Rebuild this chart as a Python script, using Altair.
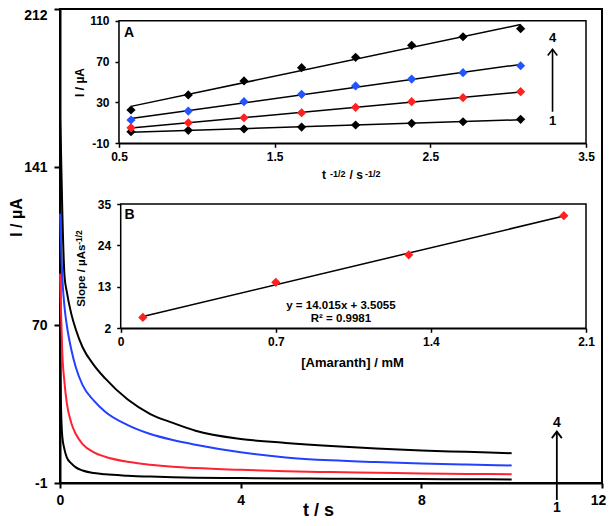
import altair as alt
import pandas as pd

FONT = "Liberation Sans"
W, H = 542, 474

# ---------------- main chronoamperograms (t in s, I in µA) ----------------
T = [0.0, 0.02, 0.05, 0.1, 0.15, 0.25, 0.35, 0.5, 0.75, 1.0, 1.5, 2.0, 2.5, 3.0,
     4.0, 5.0, 6.0, 7.0, 8.0, 9.0, 10.0]
I_1 = [60, 35, 20, 14, 10.5, 7.8, 6.0, 4.6, 3.5, 2.9, 2.3, 1.9, 1.6, 1.4,
       1.2, 1.05, 0.95, 0.85, 0.75, 0.7, 0.6]
I_2 = [93, 78, 58, 44, 35, 26, 21, 16.5, 12.8, 10.8, 8.5, 7.2, 6.3, 5.7,
       4.9, 4.3, 3.9, 3.6, 3.3, 3.1, 2.9]
I_3 = [120, 108, 92, 78, 70, 59, 51, 43, 36, 31, 25, 21, 18.3, 16.2,
       12.8, 10.5, 9.2, 8.4, 7.8, 7.3, 6.9]
I_4 = [163, 150, 122, 92, 85, 75, 68, 60, 52, 46, 36.5, 30, 26, 22.5,
       18.8, 17.0, 15.6, 14.5, 13.6, 13.0, 12.4]
CURVES = ["1", "2", "3", "4"]
LINE_COLORS = ["#000000", "#ff2233", "#2241ff", "#000000"]
MARK_COLORS = ["#000000", "#ff2020", "#2255ff", "#000000"]
MAIN_X_TICKS = [0, 4, 8, 12]
MAIN_Y_TICKS = [-1, 70, 141, 212]
MAIN_ARROW_T = [11]
MAIN_ARROW_LO = [-8.6]
MAIN_ARROW_HI = [22.1]
MAIN_ARROW_LABELS = ["4", "1"]
MAIN_ARROW_LABEL_Y = [25.8, -12.4]

# ---------------- inset A: I vs t^-1/2 ----------------
A_X = [0.577, 0.945, 1.303, 1.673, 2.02, 2.38, 2.71, 3.08]
A_I1 = [1.3, 2.7, 4.0, 5.9, 7.9, 9.6, 11.1, 13.5]
A_I2 = [5.2, 10.1, 15.0, 19.9, 25.2, 30.7, 34.6, 40.5]
A_I3 = [12.8, 21.6, 30.7, 37.9, 46.1, 52.9, 59.1, 65.9]
A_I4 = [22.6, 37.3, 51.0, 64.0, 74.2, 85.9, 94.3, 102.2]
A_X_TICKS = [0.5, 1.5, 2.5, 3.5]
A_Y_TICKS = [-10, 30, 70, 110]
A_ARROW_X = [3.285]
A_ARROW_LO = [20.9]
A_ARROW_HI = [82.0]
A_ARROW_LABEL_Y = [92.8, 11.5]
A_TAG = (0.532, 98)
A_XTITLE_ANCHOR = (1.804, -45.2)

# ---------------- inset B: slope vs concentration ----------------
B_CONC = [0.1, 0.7, 1.3, 2.0]
B_SLOPE = [4.9, 14.2, 21.5, 31.9]
B_X_TICKS = [0, 0.7, 1.4, 2.1]
B_Y_TICKS = [2, 13, 24, 35]
B_EQUATION = ["y = 14.015x  + 3.5055", "R² = 0.9981"]
B_EQUATION_X = [0.994, 0.994]
B_EQUATION_Y = [8.0, 4.5]
B_TAG = (0.017, 32.1)
B_YTITLE_ANCHOR = (-0.161, 7.7)

# inset placement inside the main plot area (pixels)
A_XR = [59, 526]
A_YR = [134.3, 11.7]
B_XR = [60.7, 526]
B_YR = [319.3, 195]

ARROW_HEAD = "M-1,1.3L0,0L1,1.3"
LABEL_EXPR = "'' + datum.value"


def axis(values, orient, title=None, lab=12, tick=4, pad=6, dw=1.5, offset=0, **kw):
    return alt.Axis(
        values=values, orient=orient, offset=offset, title=title,
        labelExpr=LABEL_EXPR, labelFont=FONT, labelFontSize=lab,
        labelFontWeight="bold", labelColor="black", labelPadding=pad,
        tickSize=tick, tickWidth=dw, tickColor="black",
        domainColor="black", domainWidth=dw, grid=False,
        titleFont=FONT, titleFontWeight="bold", titleColor="black", **kw)


def scales(kind):
    if kind == "main":
        return (alt.Scale(domain=[MAIN_X_TICKS[0], MAIN_X_TICKS[-1]], nice=False, zero=False),
                alt.Scale(domain=[MAIN_Y_TICKS[0], MAIN_Y_TICKS[-1]], nice=False, zero=False))
    if kind == "A":
        return (alt.Scale(domain=[A_X_TICKS[0], A_X_TICKS[-1]], range=A_XR, nice=False, zero=False),
                alt.Scale(domain=[A_Y_TICKS[0], A_Y_TICKS[-1]], range=A_YR, nice=False, zero=False))
    return (alt.Scale(domain=[B_X_TICKS[0], B_X_TICKS[-1]], range=B_XR, nice=False, zero=False),
            alt.Scale(domain=[B_Y_TICKS[0], B_Y_TICKS[-1]], range=B_YR, nice=False, zero=False))


def txt(df, kind, **mk):
    xs, ys = scales(kind)
    base = dict(font=FONT, fontWeight="bold", color="black")
    base.update(mk)
    return alt.Chart(df).mark_text(**base).encode(
        x=alt.X("x:Q", scale=xs, axis=None),
        y=alt.Y("y:Q", scale=ys, axis=None),
        text="txt:N")


def arrow(kind, xs_vals, lo, hi, width, size):
    xs, ys = scales(kind)
    df = pd.DataFrame({"x": xs_vals, "lo": lo, "hi": hi})
    rule = alt.Chart(df).mark_rule(color="black", strokeWidth=width).encode(
        x=alt.X("x:Q", scale=xs, axis=None), y=alt.Y("lo:Q", scale=ys, axis=None), y2="hi:Q")
    head = alt.Chart(df).mark_point(shape=ARROW_HEAD, filled=False, size=size, strokeWidth=width,
                                    color="black", opacity=1).encode(
        x=alt.X("x:Q", scale=xs, axis=None), y=alt.Y("hi:Q", scale=ys, axis=None))
    return [rule, head]


layers = []

# ================= main chart =================
main_df = pd.DataFrame({
    "t": T * 4,
    "I": I_1 + I_2 + I_3 + I_4,
    "curve": [c for c in CURVES for _ in T],
})
mxs, mys = scales("main")
top_tick = MAIN_Y_TICKS[-1]
last_x = MAIN_X_TICKS[-1]
layers.append(alt.Chart(main_df).mark_line(strokeWidth=2, interpolate="monotone").encode(
    x=alt.X("t:Q", scale=mxs, axis=axis(
        MAIN_X_TICKS, "bottom", title="t / s", lab=14, tick=5, pad=5, dw=2,
        labelFlush=False,
        labelOffset={"condition": {"test": f"datum.value == {last_x}", "value": -4}, "value": 0},
        titleFontSize=18, titleX=258, titleY=32,
        titleBaseline="alphabetic", titleAlign="center")),
    y=alt.Y("I:Q", scale=mys, axis=axis(
        MAIN_Y_TICKS, "left", title="I / µA", lab=14, tick=6, pad=7, dw=2,
        labelOffset={"condition": {"test": f"datum.value == {top_tick}", "value": 6}, "value": 0},
        titleFontSize=16, titleX=-44, titleY=208, titleBaseline="middle",
        titleAngle=270, titleAlign="center")),
    color=alt.Color("curve:N", scale=alt.Scale(domain=CURVES, range=LINE_COLORS), legend=None),
))
layers += arrow("main", MAIN_ARROW_T, MAIN_ARROW_LO, MAIN_ARROW_HI, 1.8, 100)
layers.append(txt(pd.DataFrame({"x": MAIN_ARROW_T * 2, "y": MAIN_ARROW_LABEL_Y,
                                "txt": MAIN_ARROW_LABELS}),
                  "main", fontSize=14, align="center", baseline="middle"))

# ================= inset A =================
axs, ays = scales("A")
a_df = pd.DataFrame({
    "x": A_X * 4,
    "I": A_I1 + A_I2 + A_I3 + A_I4,
    "series": [c for c in CURVES for _ in A_X],
})
layers.append(alt.Chart(pd.DataFrame({"x0": [A_X_TICKS[0]], "x1": [A_X_TICKS[-1]],
                                      "y0": [A_Y_TICKS[0]], "y1": [A_Y_TICKS[-1]]})).mark_rect(
    fill="white", stroke="black", strokeWidth=1.5).encode(
    x=alt.X("x0:Q", scale=axs, axis=axis(A_X_TICKS, "bottom", offset=-(H - A_YR[0]),
                                         pad=4, labelFlush=False)),
    x2="x1:Q",
    y=alt.Y("y0:Q", scale=ays, axis=axis(A_Y_TICKS, "left", offset=-A_XR[0], title="I / µA",
                                         titleFontSize=12, titleX=-40, titleY=73,
                                         titleBaseline="middle", titleAngle=270,
                                         titleAlign="center")),
    y2="y1:Q",
))
axs, ays = scales("A")
layers.append(alt.Chart(a_df).transform_regression("x", "I", groupby=["series"]).mark_line(
    color="black", strokeWidth=1.5).encode(
    x=alt.X("x:Q", scale=axs, axis=None), y=alt.Y("I:Q", scale=ays, axis=None),
    detail="series:N"))
axs, ays = scales("A")
layers.append(alt.Chart(a_df).mark_point(shape="diamond", filled=True, size=85, opacity=1).encode(
    x=alt.X("x:Q", scale=axs, axis=None), y=alt.Y("I:Q", scale=ays, axis=None),
    color=alt.Color("series:N", scale=alt.Scale(domain=CURVES, range=MARK_COLORS), legend=None)))
layers.append(txt(pd.DataFrame({"x": [A_TAG[0]], "y": [A_TAG[1]], "txt": ["A"]}), "A",
                  fontSize=14, align="left", baseline="middle"))
layers += arrow("A", A_ARROW_X, A_ARROW_LO, A_ARROW_HI, 1.6, 90)
layers.append(txt(pd.DataFrame({"x": A_ARROW_X * 2, "y": A_ARROW_LABEL_Y, "txt": ["4", "1"]}),
                  "A", fontSize=13, align="center", baseline="middle"))
for s, dx, dy, fs in [("t", 0, 0, 12), ("-1/2", 8, -2.5, 9), ("/ s", 27.5, 0, 12),
                      ("-1/2", 43, -2.5, 9)]:
    layers.append(txt(pd.DataFrame({"x": [A_XTITLE_ANCHOR[0]], "y": [A_XTITLE_ANCHOR[1]],
                                    "txt": [s]}),
                      "A", fontSize=fs, align="left", baseline="alphabetic", dx=dx, dy=dy))

# ================= inset B =================
b_df = pd.DataFrame({"c": B_CONC, "s": B_SLOPE})
bxs, bys = scales("B")
layers.append(alt.Chart(pd.DataFrame({"x0": [B_X_TICKS[0]], "x1": [B_X_TICKS[-1]],
                                      "y0": [B_Y_TICKS[0]], "y1": [B_Y_TICKS[-1]]})).mark_rect(
    fill="white", stroke="black", strokeWidth=1.5).encode(
    x=alt.X("x0:Q", scale=bxs, axis=axis(B_X_TICKS, "bottom", offset=-(H - B_YR[0]),
                                         pad=4, labelFlush=False, title="[Amaranth] / mM",
                                         titleFontSize=13, titleX=292, titleY=34,
                                         titleBaseline="middle", titleAlign="center")),
    x2="x1:Q",
    y=alt.Y("y0:Q", scale=bys, axis=axis(B_Y_TICKS, "left", offset=-B_XR[0])),
    y2="y1:Q",
))
bxs, bys = scales("B")
layers.append(alt.Chart(b_df).transform_regression("c", "s").mark_line(
    color="black", strokeWidth=1.5).encode(
    x=alt.X("c:Q", scale=bxs, axis=None), y=alt.Y("s:Q", scale=bys, axis=None)))
bxs, bys = scales("B")
layers.append(alt.Chart(b_df).mark_point(shape="diamond", filled=True, size=85, opacity=1,
                                         color=MARK_COLORS[1]).encode(
    x=alt.X("c:Q", scale=bxs, axis=None), y=alt.Y("s:Q", scale=bys, axis=None)))
layers.append(txt(pd.DataFrame({"x": [B_TAG[0]], "y": [B_TAG[1]], "txt": ["B"]}), "B",
                  fontSize=14, align="left", baseline="middle"))
layers.append(txt(pd.DataFrame({"x": B_EQUATION_X, "y": B_EQUATION_Y, "txt": B_EQUATION}), "B",
                  fontSize=11.5, align="center", baseline="middle"))
for s, dx, dy, fs in [("Slope / µAs", 0, 0, 11.5), ("-1/2", 62, -3.5, 8.5)]:
    layers.append(txt(pd.DataFrame({"x": [B_YTITLE_ANCHOR[0]], "y": [B_YTITLE_ANCHOR[1]],
                                    "txt": [s]}),
                      "B", fontSize=fs, align="left", baseline="alphabetic", angle=270,
                      dx=dx, dy=dy))

chart = alt.layer(*layers).resolve_scale(
    x="independent", y="independent", color="independent"
).properties(
    width=W, height=H,
    padding={"left": 52, "top": 1, "right": 4, "bottom": 35},
    autosize=alt.AutoSizeParams(type="none"),
).configure_view(stroke="black", strokeWidth=2)

chart.save("out.html", embed_options={"renderer": "svg", "actions": False})
